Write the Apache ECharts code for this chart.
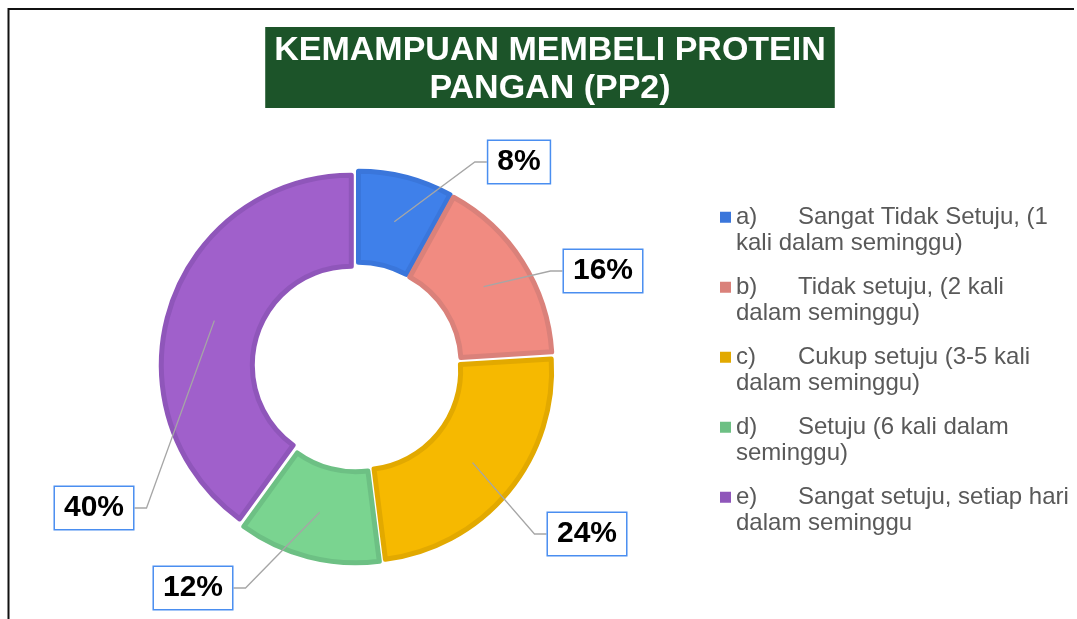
<!DOCTYPE html>
<html>
<head>
<meta charset="utf-8">
<script src="https://cdn.jsdelivr.net/npm/echarts@6/dist/echarts.min.js"></script>
<style>
  html, body { margin: 0; padding: 0; background: #fff; }
  #chart { width: 1077px; height: 619px; }
</style>
</head>
<body>
<div id="chart"></div>
<script>
// Survey answers: share of respondents (%) per answer option
const markers = ['a)', 'b)', 'c)', 'd)', 'e)'];
const categories = [
  'Sangat Tidak Setuju, (1 kali dalam seminggu)',
  'Tidak setuju, (2 kali dalam seminggu)',
  'Cukup setuju (3-5 kali dalam seminggu)',
  'Setuju (6 kali dalam seminggu)',
  'Sangat setuju, setiap hari dalam seminggu'
];
// how each legend entry is broken over two lines
const legendLines = [
  ['Sangat Tidak Setuju, (1', 'kali dalam seminggu)'],
  ['Tidak setuju, (2 kali', 'dalam seminggu)'],
  ['Cukup setuju (3-5 kali', 'dalam seminggu)'],
  ['Setuju (6 kali dalam', 'seminggu)'],
  ['Sangat setuju, setiap hari', 'dalam seminggu']
];
const values = [8, 16, 24, 12, 40];

// styling
const fillColors = ['#3F80EA', '#F18B81', '#F6B900', '#7AD490', '#A060CB'];
const edgeColors = ['#3A76DB', '#DA817A', '#E2A900', '#6DC084', '#8F56BA'];

// ring geometry (px)
const CX = 357, CY = 367;
const R_IN = 99, R_OUT = 190, R_MID = 150;
// centres of the value boxes
const labelAnchors = [[519, 162], [603, 271], [587, 534], [193, 588], [94, 508]];

const total = values.reduce((s, v) => s + v, 0);
const midAngles = [];
let acc = 0;
values.forEach(v => {
  midAngles.push((acc + v / 2) / total * 2 * Math.PI);
  acc += v;
});

const FONT = '"Liberation Sans", Arial, sans-serif';

const chart = echarts.init(document.getElementById('chart'), null, { renderer: 'canvas' });

const ringData = categories.map((name, i) => ({
  name,
  value: values[i],
  selected: true,
  itemStyle: { color: fillColors[i], borderColor: edgeColors[i], borderWidth: 5 }
}));

const labelData = categories.map((name, i) => ({ name, value: values[i] }));

chart.setOption({
  animation: false,
  backgroundColor: '#ffffff',
  title: {
    text: 'KEMAMPUAN MEMBELI PROTEIN\nPANGAN (PP2)',
    left: 541,
    top: 27,
    textAlign: 'center',
    textVerticalAlign: 'top',
    padding: [5, 9, 0, 9],
    backgroundColor: '#1C5429',
    textStyle: {
      color: '#ffffff',
      fontFamily: FONT,
      fontWeight: 'bold',
      fontSize: 34,
      lineHeight: 38
    }
  },
  legend: {
    orient: 'vertical',
    left: 720,
    top: 204,
    padding: 0,
    itemGap: 17,
    itemWidth: 11,
    itemHeight: 53,
    icon: 'path://M0,0h0.01 M0,7.75h11v11h-11z M0,53h0.01',
    selectedMode: false,
    itemStyle: { borderWidth: 0 },
    data: categories.map((name, i) => ({ name, itemStyle: { color: edgeColors[i], borderWidth: 0 } })),
    formatter: function (name) {
      const i = categories.indexOf(name);
      return '{p|' + markers[i] + '}' + legendLines[i][0] + '\n' + legendLines[i][1];
    },
    textStyle: {
      color: '#595959',
      fontFamily: FONT,
      fontSize: 24,
      lineHeight: 26.5,
      rich: {
        p: { width: 62, color: '#595959', fontFamily: FONT, fontSize: 24, lineHeight: 26.5 }
      }
    }
  },
  graphic: [{
    type: 'polyline',
    silent: true,
    shape: { points: [[8.5, 619], [8.5, 9], [1074, 9]] },
    style: { stroke: '#111111', lineWidth: 2, fill: null }
  }],
  series: [
    {
      name: 'ring',
      type: 'pie',
      z: 2,
      center: [CX, CY],
      radius: [R_IN, R_OUT],
      startAngle: 90,
      clockwise: true,
      selectedMode: 'multiple',
      selectedOffset: 6,
      silent: true,
      label: { show: false },
      labelLine: { show: false },
      emphasis: { disabled: true },
      data: ringData
    },
    {
      name: 'values',
      type: 'pie',
      z: 5,
      center: [CX, CY],
      radius: [R_IN, R_OUT],
      startAngle: 90,
      clockwise: true,
      silent: true,
      selectedMode: false,
      emphasis: { disabled: true },
      itemStyle: { color: 'rgba(0,0,0,0)', borderWidth: 0 },
      label: {
        show: true,
        position: 'outside',
        formatter: '{c}%',
        fontFamily: FONT,
        fontWeight: 'bold',
        fontSize: 30,
        lineHeight: 32,
        color: '#000000',
        backgroundColor: '#ffffff',
        borderColor: '#4A8EF0',
        borderWidth: 1.5,
        padding: [5, 9, 5, 9]
      },
      labelLine: {
        show: true,
        lineStyle: { color: '#A6A6A6', width: 1.3 }
      },
      labelLayout: function (p) {
        const i = p.dataIndex;
        const x = labelAnchors[i][0], y = labelAnchors[i][1];
        const w = p.labelRect.width;
        const onRight = x > CX;
        const ex = onRight ? x - w / 2 : x + w / 2;
        const bx = onRight ? ex - 12 : ex + 12;
        const a = midAngles[i];
        const sx = CX + R_MID * Math.sin(a);
        const sy = CY - R_MID * Math.cos(a);
        return {
          x: x, y: y, align: 'center', verticalAlign: 'middle',
          labelLinePoints: [[sx, sy], [bx, y], [ex, y]]
        };
      },
      data: labelData
    }
  ]
});
</script>
</body>
</html>
